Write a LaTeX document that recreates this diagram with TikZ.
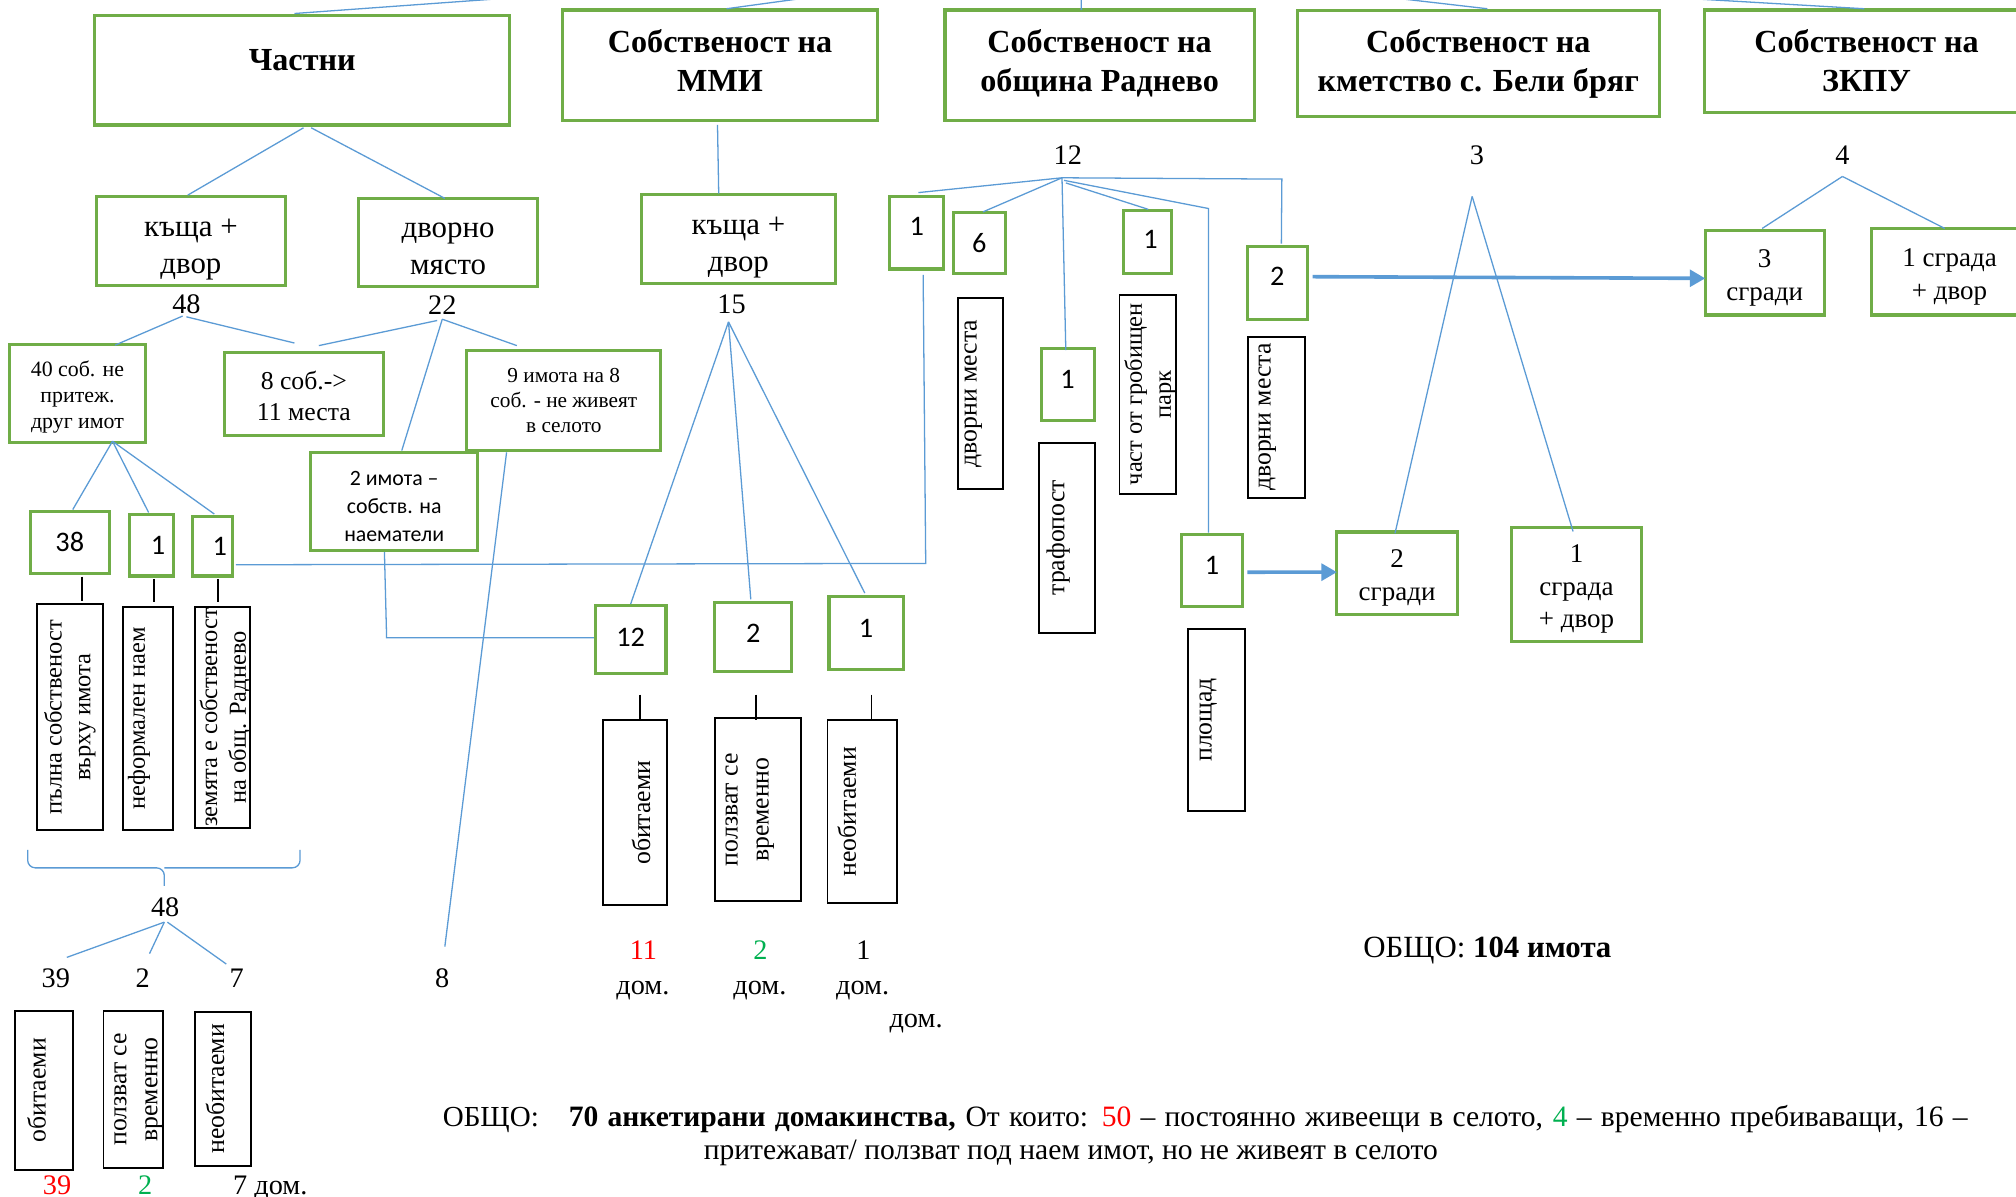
\documentclass[tikz,border=0pt]{standalone}
\usepackage{fontspec}
\setmainfont{Liberation Serif}
\newfontfamily\calib{Carlito}
\usetikzlibrary{calc,arrows.meta}
\definecolor{gr}{HTML}{70AD47}
\definecolor{bl}{HTML}{5B9BD5}
\definecolor{rd}{HTML}{FF0000}
\definecolor{gn}{HTML}{00B050}
\newcommand\fs[2]{\fontsize{#1}{#2}\selectfont}
\begin{document}
\begin{tikzpicture}[x=0.5pt,y=-0.5pt,
 bx/.style n args={4}{at={({(#1+#3)/2},{(#2+#4)/2})}, minimum width={(#3-#1)*0.5pt}, minimum height={(#4-#2)*0.5pt}},
 gbox/.style={draw=gr, line width=1.2pt, inner sep=0pt, align=center},
 lbl/.style={inner sep=0pt, align=center},
 ttl/.style={lbl, font=\bfseries\fs{12.5}{15.25}},
 stx/.style={lbl, font=\fs{12}{14.5}},
 ttx/.style={lbl, font=\fs{10.5}{12.6}},
 cbox/.style={gbox, font=\calib\fs{11}{13}},
 kbox/.style={draw=black, line width=0.75pt, inner sep=0pt},
 vtext/.style={rotate=90, align=center, inner sep=0pt, font=\fs{10}{12}},
 vtexts/.style={vtext, font=\fs{9.5}{11.2}},
 conn/.style={draw=bl, line width=0.5pt},
 arr/.style={draw=bl, line width=1.4pt, -{Triangle[length=6pt,width=6.5pt]}},
 tick/.style={draw=black, line width=0.75pt},
 num/.style={inner sep=0pt, font=\fs{11}{13}},
]
\path[use as bounding box, fill=white] (0,0) rectangle (1568,931);

% ---------- top level boxes
\node[gbox, bx={73.6}{12.4}{396.5}{97.2}] (bCh) {};
\node[ttl] (bChT) at ($(bCh.center)+(0,-8)$) {Частни};
\node[gbox, bx={437.4}{7.8}{682.7}{93.9}] (bMMI) {};
\node[ttl] (bMMIT) at ($(bMMI.center)+(0,-3.5)$) {Собственост на\\ММИ};
\node[gbox, bx={735}{7.8}{975.5}{93.9}] (bOb) {};
\node[ttl] (bObT) at ($(bOb.center)+(0,-1.5)$) {Собственост на\\община Раднево};
\node[gbox, bx={1009}{8.3}{1290.6}{90.7}] (bKm) {};
\node[ttl] (bKmT) at (bKm.center) {Собственост на\\кметство с. Бели бряг};
\node[gbox, bx={1326}{7.8}{1577.6}{87.6}] (bZk) {};
\node[ttl] (bZkT) at ($(bZk.center)+(0,-0.5)$) {Собственост на\\ЗКПУ};

\coordinate (tA) at (430,-4);
\coordinate (tB) at (650,-4.8);
\coordinate (tC) at (841,-5);
\coordinate (tD) at (1054.6,-5);
\coordinate (tE) at (1247,-5);
\draw[conn] ($(bCh.north)+(-6,-0.7)$) -- (tA);
\draw[conn] ($(bMMI.north)+(5,0.2)$) -- (tB);
\draw[conn] ($(bOb.north)+(-14.2,1.2)$) -- (tC);
\draw[conn] ($(bKm.north)+(7,-0.3)$) -- (tD);
\draw[conn] ($(bZk.north)+(-1.8,0.2)$) -- (tE);

% ---------- Частни branch
\node[gbox, bx={75}{153}{222}{221.7}] (kd1) {};
\node[stx] (kd1T) at ($(kd1.center)+(0,7)$) {къща +\\двор};
\node[gbox, bx={279}{154.5}{418}{223}] (dm) {};
\node[stx] (dmT) at ($(dm.center)+(0,5)$) {дворно\\място};
\draw[conn] ($(bCh.south)+(1,1)$) -- ($(kd1.north)+(-2.5,0)$);
\draw[conn] ($(bCh.south)+(7,1)$) -- ($(dm.north)+(-2.5,1)$);

\node[num] (n48) at (145,237) {48};
\node[num] (n22) at (344,237) {22};

\node[gbox, bx={7.6}{267.9}{113}{344.2}] (b40) {};
\node[lbl, font=\fs{8.5}{10.15}] (b40T) at ($(b40.center)+(0,3)$) {40 соб. не\\притеж.\\друг имот};
\node[gbox, bx={174.6}{274.5}{298}{338.4}] (b8) {};
\node[lbl, font=\fs{10}{11.8}] (b8T) at ($(b8.center)+(0,1.5)$) {8 соб.->\\11 места};
\node[gbox, bx={363}{272.8}{514}{350.6}] (b9) {};
\node[lbl, font=\fs{8.3}{9.7}] (b9T) at (b9.center) {9 имота на 8\\соб. - не живеят\\в селото};
\node[gbox, bx={241.7}{352}{371.5}{428.3}] (b2i) {};
\node[lbl, font=\calib\fs{8.5}{10.85}] (b2iT) at ($(b2i.center)+(0,4)$) {2 имота –\\собств. на\\наематели};

\draw[conn] ($(n48.south)+(-3,1)$) -- ($(b40.north)+(29.3,1.7)$);
\draw[conn] ($(n48.south)+(0,1.6)$) -- ($(b8.north)+(-7.3,-6.5)$);
\draw[conn] ($(n22.south)+(-4,4.6)$) -- ($(b8.north)+(11.7,-4.5)$);
\draw[conn] ($(n22.south)+(0,3.6)$) -- ($(b9.north)+(-36.5,-2.8)$);
\draw[conn] ($(n22.south)+(0,3.6)$) -- ($(b2i.north)+(5.9,-0.4)$);

\node[cbox, bx={23.6}{398}{85}{445.7}] (b38) {38};
\node[cbox, bx={101}{400}{134.8}{448}] (b1a) {\hspace*{5pt}1};
\node[cbox, bx={150}{401.7}{181}{448}] (b1b) {\hspace*{5.5pt}1};
\draw[conn] ($(b40.south)+(27.2,-2.2)$) -- ($(b38.north)+(2.3,-0.5)$);
\draw[conn] ($(b40.south)+(27.2,-2.2)$) -- ($(b1a.north)+(-2.3,-0.2)$);
\draw[conn] ($(b40.south)+(27.2,-2.2)$) -- ($(b1b.north)+(1.2,-0.7)$);

\node[kbox, bx={28.8}{470}{79.9}{645.6}] (v1) {};
\node[vtexts] (v1t) at (v1.center) {пълна собственост\\върху имота};
\node[kbox, bx={95.5}{472}{134.7}{645.6}] (v2) {};
\node[vtexts] (v2t) at ($(v2.center)+(-7,0)$) {неформален наем};
\node[kbox, bx={151.7}{472}{194.8}{644}] (v3) {};
\node[vtexts] (v3t) at ($(v3.center)+(2,0)$) {земята е собственост\\на общ. Раднево};
\draw[tick] ($(b38.south)+(9.2,1.5)$) -- ++(0,19);
\draw[tick] ($(b1a.south)+(1.9,1)$) -- ++(0,18);
\draw[tick] ($(b1b.south)+(4.3,1)$) -- ++(0,18);

% brace and totals
\draw[conn, rounded corners=3] (21.5,661) -- (21.5,675) -- (127.8,675) -- (127.8,689);
\draw[conn, rounded corners=3] (233.4,661) -- (233.4,675) -- (127.8,675);
\node[num] (n48b) at (128.5,705.5) {48};
\node[num] (n39) at (43.4,761) {39};
\node[num] (n2b) at (111,761) {2};
\node[num] (n7) at (184,761) {7};
\draw[conn] ($(n48b.south)+(-0.7,3.9)$) -- ($(n39.north)+(8.6,-8.6)$);
\draw[conn] ($(n48b.south)+(-0.7,3.9)$) -- ($(n2b.north)+(5.3,-11.6)$);
\draw[conn] ($(n48b.south)+(1.7,3.9)$) -- ($(n7.north)+(-8,-3.6)$);

\node[kbox, bx={12}{786}{57}{910}] (vb1) {};
\node[vtext] (vb1t) at ($(vb1.center)+(-6,0)$) {обитаеми};
\node[kbox, bx={80.5}{786}{127}{908.6}] (vb2) {};
\node[vtext] (vb2t) at ($(vb2.center)+(4,0)$) {ползват се\\временно};
\node[kbox, bx={152}{787}{195.5}{906.8}] (vb3) {};
\node[vtext] (vb3t) at ($(vb3.center)+(-6.5,0)$) {необитаеми};
\node[num, text=rd] (r39) at (44.4,921.7) {39};
\node[num, text=gn] (g2) at (113,921.7) {2};
\node[num, anchor=base west] (d7) at (181,929.1) {7 дом.};

% 9 имота -> 8
\node[num] (n8) at (344,761) {8};
\draw[conn] ($(b9.south)+(-44.5,0)$) -- ($(n8.north)+(2,-17)$);

% ---------- ММИ branch
\node[gbox, bx={498.6}{151.4}{650}{220.4}] (kd2) {};
\node[stx] (kd2T) at ($(kd2.center)+(0,6.5)$) {къща +\\двор};
\draw[conn] ($(bMMI.south)+(-2,2)$) -- ($(kd2.north)+(-15.3,0.3)$);
\node[num] (n15) at (569,237) {15};
\coordinate (ap15) at ($(n15.south)+(-2.4,5.6)$);
\node[cbox, bx={463}{471}{518}{524}, text depth=1.5pt] (b12) {12};
\node[cbox, bx={556}{468.6}{615.7}{522}, text depth=2.6pt] (b2m) {2};
\node[cbox, bx={644.8}{464}{702.4}{520.4}, text depth=3.8pt] (b1m) {1};
\draw[conn] (ap15) -- (b12.north);
\draw[conn] (ap15) -- ($(b2m.north)+(-1.9,-1.3)$);
\draw[conn] (ap15) -- ($(b1m.north)+(-1,-1.5)$);
\draw[conn] ($(b2i.south)+(-7.6,0)$) -- ($(b12.west)+(-161.1,-1.5)$) -- ($(b12.west)+(0,-1.5)$);

\draw[tick] ($(b12.south)+(7.3,15)$) -- ++(0,19.5);
\draw[tick] ($(b2m.south)+(2,17)$) -- ++(0,19.5);
\draw[tick] ($(b1m.south)+(4.2,18.6)$) -- ++(0,19.5);
\node[kbox, bx={468.7}{560}{519}{704.2}] (v4) {};
\node[vtext] (v4t) at ($(v4.center)+(4.7,0)$) {обитаеми};
\node[kbox, bx={556}{558.5}{623}{701}] (v5) {};
\node[vtext] (v5t) at ($(v5.center)+(-6.3,0)$) {ползват се\\временно};
\node[kbox, bx={643.6}{560}{697.7}{702.5}] (v6) {};
\node[vtext] (v6t) at ($(v6.center)+(-12,0)$) {необитаеми};

\node[num, text=rd] (r11) at (500.4,739) {11};
\node[num, text=gn] (g2m) at (591.5,739) {2};
\node[num] (k1m) at (671.5,739) {1};
\node[num, anchor=base] (dd1) at (500,773.3) {дом.};
\node[num, anchor=base] (dd2) at (591,773.3) {дом.};
\node[num, anchor=base] (dd3) at (671,773.3) {дом.};
\node[num, anchor=base] (dd4) at (712.5,799) {дом.};

% ---------- община Раднево branch
\node[num] (n12c) at (830.5,120.6) {12};
\coordinate (ap12) at ($(n12c.south)+(-4.5,10)$);
\node[cbox, bx={692}{153}{734}{209.2}, text depth=5pt] (b1o) {1};
\node[cbox, bx={741.5}{165}{782}{212.6}] (b6) {6};
\node[cbox, bx={873.5}{163.8}{910.8}{212.6}, text depth=2.2pt] (b1r) {\hspace*{2.7pt}1};
\node[cbox, bx={809.7}{271}{851}{327.2}, text depth=4pt] (b1l) {1};
\node[cbox, bx={970}{191.9}{1017}{248.4}, text depth=5.3pt] (b2c) {2};
\node[cbox, bx={919}{415.4}{966.2}{471.9}, text depth=4pt] (b1p) {1};

\draw[conn] (ap12) -- ($(b1o.north)+(1.3,-2)$);
\draw[conn] (ap12) -- ($(b6.north)+(2.8,1)$);
\draw[conn] (ap12) -- ($(b1l.north)+(-1.4,2.5)$);
\draw[conn] ($(ap12)+(3,4)$) -- ($(b1r.north)+(0.85,0.2)$);
\draw[conn] ($(ap12)+(1.6,2)$) -- ($(b1p.north)+(-2.6,-252)$) -- ($(b1p.north)+(-2.6,0)$);
\draw[conn] (ap12) -- ($(b2c.north)+(3.5,-51.4)$) -- ($(b2c.north)+(3.1,-1.3)$);

% long connector from the second "1" to the "1" of Раднево
\draw[conn] ($(b1b.east)+(1.3,14.4)$) -- ($(b1o.south)+(7,227.8)$) -- ($(b1o.south)+(5,3.4)$);

\node[kbox, bx={745}{232}{780}{380.4}] (vd1) {};
\node[vtext] (vd1t) at ($(vd1.center)+(-5.5,0)$) {дворни места};
\node[kbox, bx={808}{344.3}{852}{492.3}] (vtr) {};
\node[vtext] (vtrt) at ($(vtr.center)+(-7,0)$) {трафопост};
\node[kbox, bx={870.7}{229.2}{914.5}{384}] (vgp) {};
\node[vtexts] (vgpt) at ($(vgp.center)+(2,0)$) {част от гробищен\\парк};
\node[kbox, bx={970.4}{261.9}{1015}{387}] (vd2) {};
\node[vtext] (vd2t) at ($(vd2.center)+(-7,0)$) {дворни места};
\node[kbox, bx={923.9}{489}{968.4}{630.8}] (vpl) {};
\node[vtext] (vplt) at ($(vpl.center)+(-6.5,0)$) {площад};

% ---------- кметство branch
\node[num] (n3) at (1148.8,120.6) {3};
\coordinate (ap3) at ($(n3.south)+(-3.8,24.4)$);
\node[gbox, bx={1039.6}{413.8}{1133.6}{478.1}] (b2s) {};
\node[ttx] (b2sT) at ($(b2s.center)+(0,3.5)$) {2\\сгради};
\node[gbox, bx={1175.3}{410.5}{1277}{499}] (b1sd) {};
\node[ttx] (b1sdT) at ($(b1sd.center)+(0,3.5)$) {1\\сграда\\+ двор};
\draw[conn] (ap3) -- ($(b2s.north)+(-1.6,2.2)$);
\draw[conn] (ap3) -- ($(b1sd.north)+(-2.65,4.1)$);
\draw[arr] ($(b1p.east)+(2.8,1.4)$) -- ($(b2s.west)+(1.4,-0.95)$);

% ---------- ЗКПУ branch
\node[num] (n4) at (1433,120.6) {4};
\coordinate (ap4) at ($(n4.south)+(0,9)$);
\node[gbox, bx={1326.4}{179.4}{1418.7}{245}] (b3s) {};
\node[ttx] (b3sT) at ($(b3s.center)+(0,4)$) {3\\сгради};
\node[gbox, bx={1455.6}{177.9}{1577}{245}] (b1sz) {};
\node[ttx] (b1szT) at ($(b1sz.center)+(0,4)$) {1 сграда\\+ двор};
\draw[conn] (ap4) -- ($(b3s.north)+(-2,-0.5)$);
\draw[conn] (ap4) -- ($(b1sz.north)+(-3.7,1)$);
\draw[arr] ($(b2c.east)+(2.7,-4.95)$) -- ($(b3s.west)+(1.1,4.3)$);

% ---------- totals
\node[inner sep=0pt, anchor=base west, font=\fs{12}{14}] (tot1) at (1060,745) {ОБЩО: \textbf{104 имота}};
\node[inner sep=0pt, anchor=base west, font=\fs{11.3}{13}] (tot2a) at (344,875.8) {ОБЩО:};
\node[inner sep=0pt, anchor=base west, font=\fs{11.5}{13}] (tot2b) at (442,875.8) {\hbox to 544pt{\textbf{70 анкетирани домакинства,} От които: \textcolor{rd}{50} – постоянно живеещи в селото, \textcolor{gn}{4} – временно пребиваващи, 16 –}};
\node[inner sep=0pt, anchor=base west, font=\fs{11.5}{13}] (tot2c) at (547,902) {притежават/ ползват под наем имот, но не живеят в селото};
\end{tikzpicture}
\end{document}
